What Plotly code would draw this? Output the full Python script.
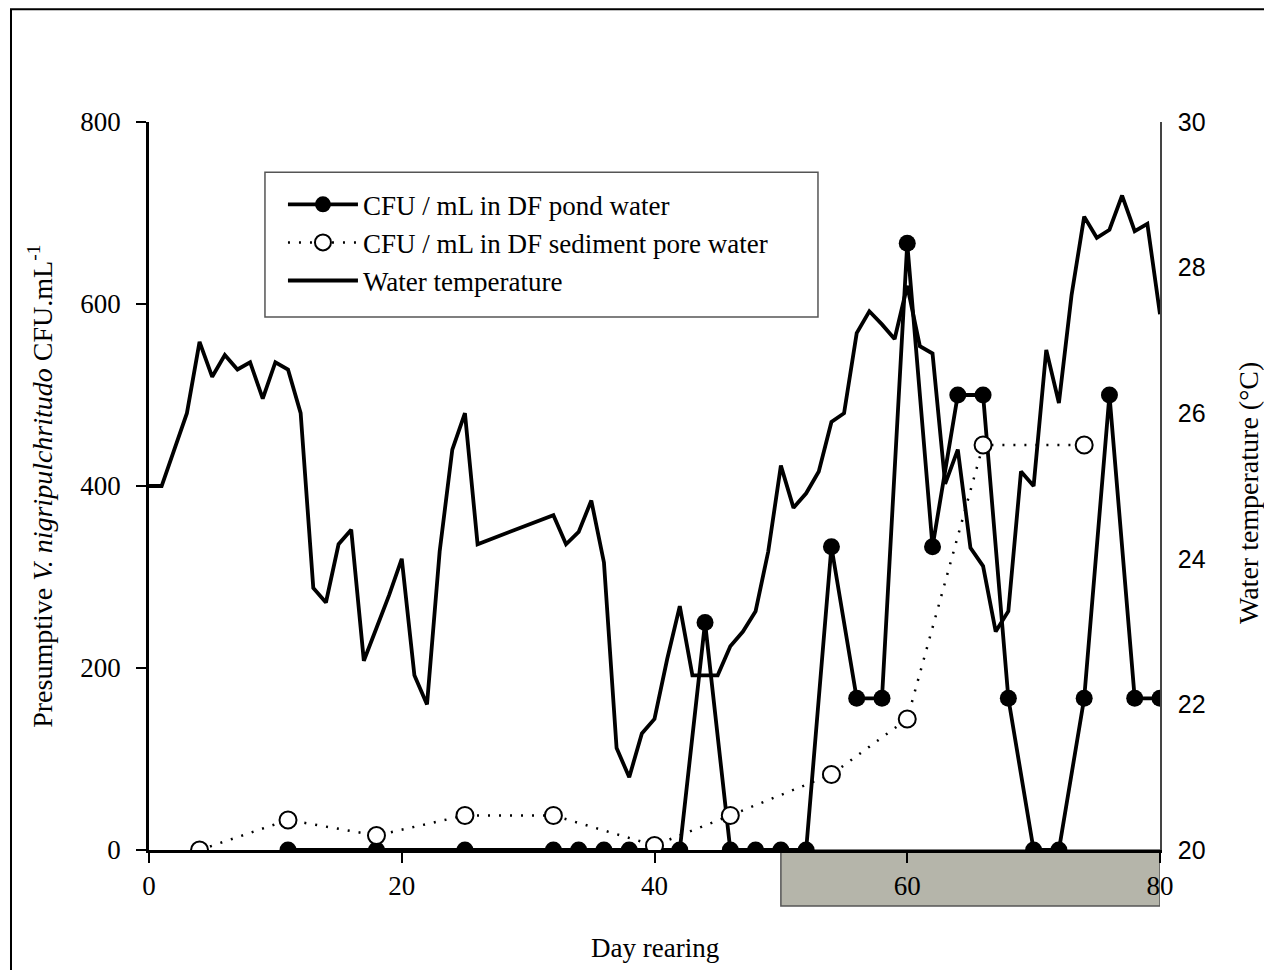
import plotly.graph_objects as go

# Pond water (filled circles)
pond_days = [11, 18, 25, 32, 34, 36, 38, 40, 42, 44, 46, 48, 50, 52, 54, 56, 58, 60,
             62, 64, 66, 68, 70, 72, 74, 76, 78, 80]
pond_cfu = [0, 0, 0, 0, 0, 0, 0, 0, 0, 250, 0, 0, 0, 0, 333.3, 166.7, 166.7, 666.7,
            333.3, 500, 500, 166.7, 0, 0, 166.7, 500, 166.7, 166.7]

# Sediment pore water (open circles)
sed_days = [4, 11, 18, 25, 32, 40, 46, 54, 60, 66, 74]
sed_cfu = [0, 33, 16, 38, 38, 5, 38, 83, 144, 445, 445]

# Water temperature (deg C)
temp_days = [0, 1, 2, 3, 4, 5, 6, 7, 8, 9, 10, 11, 12, 13, 14, 15, 16, 17, 18, 19, 20,
             21, 22, 23, 24, 25, 26, 32, 33, 34, 35, 36, 37, 38, 39, 40, 41, 42, 43, 44,
             45, 46, 47, 48, 49, 50, 51, 52, 53, 54, 55, 56, 57, 58, 59, 60, 61, 62, 63,
             64, 65, 66, 67, 68, 69, 70, 71, 72, 73, 74, 75, 76, 77, 78, 79, 80]
temp_c = [25.0, 25.0, 25.5, 26.0, 26.98, 26.5, 26.8, 26.6, 26.7, 26.2, 26.7, 26.6, 26.0,
          23.6, 23.4, 24.2, 24.4, 22.6, 23.05, 23.5, 24.0, 22.4, 22.0, 24.1, 25.5, 26.0,
          24.2, 24.6, 24.2, 24.37, 24.8, 23.95, 21.4, 21.0, 21.6, 21.8, 22.62, 23.35,
          22.4, 22.4, 22.4, 22.8, 23.0, 23.28, 24.1, 25.28, 24.7, 24.9, 25.2, 25.88, 26.0,
          27.1, 27.4, 27.22, 27.02, 27.75, 26.92, 26.82, 25.03, 25.5, 24.15, 23.9, 23.0,
          23.28, 25.2, 25.0, 26.87, 26.14, 27.62, 28.7, 28.41, 28.52, 28.99, 28.5, 28.6,
          27.36]

x_ticks = [0, 20, 40, 60, 80]
y_ticks = [0, 200, 400, 600, 800]
y2_ticks = [20, 22, 24, 26, 28, 30]

SERIF = "Liberation Serif"
SANS = "Liberation Sans"

fig = go.Figure()

fig.add_trace(go.Scatter(
    x=pond_days, y=pond_cfu, mode="lines+markers",
    name="CFU / mL in DF pond water",
    line=dict(color="black", width=3.8),
    marker=dict(symbol="circle", size=17, color="black"),
))
fig.add_trace(go.Scatter(
    x=sed_days, y=sed_cfu, mode="lines+markers",
    name="CFU / mL in DF sediment pore water",
    line=dict(color="black", width=2.5, dash="2px,9px"),
    marker=dict(symbol="circle", size=17, color="white",
                line=dict(color="black", width=2)),
))
fig.add_trace(go.Scatter(
    x=temp_days, y=temp_c, mode="lines", yaxis="y2",
    name="Water temperature",
    line=dict(color="black", width=3.8),
))

# grey shaded period below x axis
fig.add_shape(type="rect", xref="x", yref="paper", x0=50, x1=80, y0=-0.077, y1=0,
              fillcolor="#b5b5aa", line=dict(color="#555555", width=1.5), layer="below")
# legend box
fig.add_shape(type="rect", xref="paper", yref="paper", x0=0.1147, x1=0.6617,
              y0=0.732, y1=0.931, line=dict(color="#555555", width=1.5),
              fillcolor="white", layer="below")
# outer frame
fig.add_shape(type="rect", xref="paper", yref="paper", x0=-0.1365, x1=1.108,
              y0=-0.2, y1=1.155, line=dict(color="black", width=2), layer="below")

fig.add_annotation(text="Presumptive <i>V. nigripulchritudo</i> CFU.mL<sup>-1</sup>",
                   xref="paper", yref="paper", x=-0.108, y=0.50, textangle=-90,
                   showarrow=False, font=dict(family=SERIF, size=28, color="black"),
                   xanchor="center", yanchor="middle")
fig.add_annotation(text="Water temperature (°C)",
                   xref="paper", yref="paper", x=1.0875, y=0.491, textangle=-90,
                   showarrow=False, font=dict(family=SERIF, size=28, color="black"),
                   xanchor="center", yanchor="middle")
fig.add_annotation(text="Day rearing", xref="paper", yref="paper", x=0.5, y=-0.135,
                   showarrow=False, font=dict(family=SERIF, size=27, color="black"),
                   xanchor="center", yanchor="middle")

fig.update_layout(
    width=1264, height=962,
    margin=dict(l=141, r=112, t=114, b=120),
    paper_bgcolor="white", plot_bgcolor="white",
    showlegend=True,
    legend=dict(x=0.1325, y=0.92, xanchor="left", yanchor="top",
                font=dict(family=SERIF, size=27, color="black"),
                bgcolor="rgba(0,0,0,0)", borderwidth=0, itemwidth=70,
                traceorder="normal"),
    xaxis=dict(range=[0, 80], tickvals=x_ticks, showgrid=False, zeroline=False,
               showline=True, linecolor="black", linewidth=2.5,
               ticks="outside", ticklen=10, tickwidth=2, tickcolor="black",
               tickfont=dict(family=SERIF, size=27, color="black")),
    yaxis=dict(range=[0, 800], tickvals=y_ticks, showgrid=False, zeroline=False,
               showline=True, linecolor="black", linewidth=2.5,
               ticks="outside", ticklen=10, tickwidth=2, tickcolor="black",
               ticklabelstandoff=10,
               tickfont=dict(family=SERIF, size=27, color="black")),
    yaxis2=dict(range=[20, 30], tickvals=y2_ticks, overlaying="y", side="right",
                showgrid=False, zeroline=False, showline=True, linecolor="#444444",
                linewidth=1.5, ticks="", ticklabelstandoff=11,
                tickfont=dict(family=SANS, size=25, color="black")),
)

fig.write_html("out.html")
